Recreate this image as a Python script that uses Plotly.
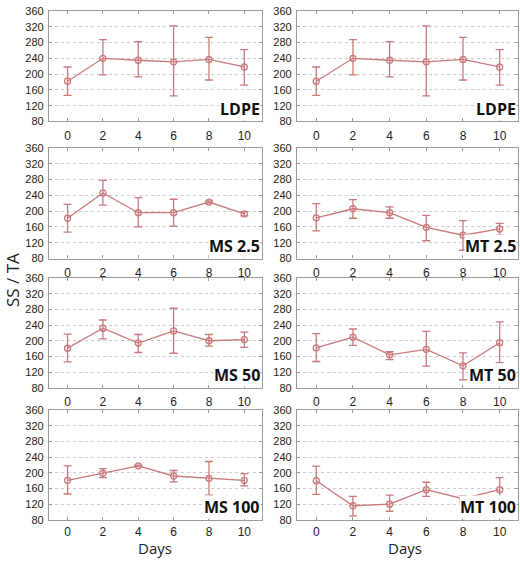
import plotly.graph_objects as go

days = [0, 2, 4, 6, 8, 10]
y_ticks = [80, 120, 160, 200, 240, 280, 320, 360]

panel_names = ["LDPE", "LDPE", "MS 2.5", "MT 2.5", "MS 50", "MT 50", "MS 100", "MT 100"]

ldpe_mean = [182, 240, 235, 231, 237, 218]
ldpe_hi = [218, 287, 282, 322, 293, 262]
ldpe_lo = [146, 198, 193, 145, 185, 172]

ms25_mean = [182, 246, 196, 196, 223, 193]
ms25_hi = [217, 278, 234, 230, 226, 198]
ms25_lo = [147, 215, 160, 162, 220, 188]

mt25_mean = [183, 206, 196, 159, 139, 155]
mt25_hi = [219, 229, 211, 189, 176, 169]
mt25_lo = [150, 182, 182, 125, 101, 140]

ms50_mean = [181, 232, 194, 225, 200, 203]
ms50_hi = [217, 253, 216, 283, 216, 222]
ms50_lo = [146, 205, 170, 168, 186, 183]

mt50_mean = [182, 209, 164, 178, 136, 195]
mt50_hi = [218, 230, 172, 224, 169, 248]
mt50_lo = [147, 188, 152, 135, 100, 144]

ms100_mean = [181, 199, 218, 192, 186, 181]
ms100_hi = [218, 211, 220, 206, 229, 198]
ms100_lo = [146, 188, 216, 177, 143, 167]

mt100_mean = [180, 116, 120, 157, 134, 157]
mt100_hi = [217, 140, 143, 176, 141, 188]
mt100_lo = [145, 90, 102, 140, 125, 127]

series = [
    (ldpe_mean, ldpe_hi, ldpe_lo),
    (ldpe_mean, ldpe_hi, ldpe_lo),
    (ms25_mean, ms25_hi, ms25_lo),
    (mt25_mean, mt25_hi, mt25_lo),
    (ms50_mean, ms50_hi, ms50_lo),
    (mt50_mean, mt50_hi, mt50_lo),
    (ms100_mean, ms100_hi, ms100_lo),
    (mt100_mean, mt100_hi, mt100_lo),
]

W, H = 520, 565
col_px = [(49, 262), (297, 518)]
row_px = [(5, 118), (145, 258), (278, 390), (413, 525)]

COLOR = "#c97a7a"
fig = go.Figure()
layout = dict(
    width=W, height=H,
    margin=dict(l=0, r=0, t=0, b=0),
    paper_bgcolor="white", plot_bgcolor="white",
    showlegend=False,
    font=dict(family="Liberation Sans, Arial, sans-serif", size=11, color="#222"),
)
annotations = []

for i, (mean, hi, lo) in enumerate(series):
    r, c = divmod(i, 2)
    n = i + 1
    xa = "x" if n == 1 else f"x{n}"
    ya = "y" if n == 1 else f"y{n}"
    plus = [h - m for h, m in zip(hi, mean)]
    minus = [m - l for m, l in zip(mean, lo)]
    fig.add_trace(go.Scatter(
        x=days, y=mean, xaxis=xa, yaxis=ya, mode="lines+markers",
        line=dict(color=COLOR, width=1.3),
        marker=dict(symbol="circle-open", size=6, color=COLOR, line=dict(width=1.3)),
        error_y=dict(type="data", symmetric=False, array=plus, arrayminus=minus,
                     color=COLOR, thickness=1.3, width=4),
        cliponaxis=False,
    ))
    x0, x1 = col_px[c]
    y0, y1 = row_px[r]
    common_line = dict(showline=True, linecolor="#9a9a9a", linewidth=1.2, mirror="ticks",
                       ticks="inside", ticklen=3, tickcolor="#9a9a9a", zeroline=False)
    layout["xaxis" if n == 1 else f"xaxis{n}"] = dict(
        domain=[x0 / W, x1 / W], anchor=ya, range=[-1.05, 11.0],
        tickvals=days, ticktext=[str(d) for d in days], showgrid=False,
        tickfont=dict(size=12, color="#222"), ticklabelstandoff=(1 if r == 3 else 3),
        **common_line)
    layout["yaxis" if n == 1 else f"yaxis{n}"] = dict(
        domain=[1 - y1 / H, 1 - y0 / H], anchor=xa, range=[80, 360],
        tickvals=y_ticks, showgrid=True, gridcolor="#cccccc", griddash="dot", gridwidth=1,
        tickfont=dict(size=11, color="#222"), ticklabelstandoff=2, **common_line)
    annotations.append(dict(
        text=f"<b>{panel_names[i]}</b>", xref="paper", yref="paper",
        x=(x1 - 1) / W, y=1 - (y1 - 1) / H, xanchor="right", yanchor="bottom",
        showarrow=False, bgcolor="white", borderpad=0,
        font=dict(family="Open Sans, sans-serif", size=16, color="#111"),
    ))

annotations.append(dict(text="SS / TA", xref="paper", yref="paper", x=12 / W, y=1 - 280 / H,
                        textangle=-90, showarrow=False, xanchor="center", yanchor="middle",
                        font=dict(family="Open Sans, sans-serif", size=17, color="#222")))
for dx in (155, 405):
    annotations.append(dict(text="Days", xref="paper", yref="paper", x=dx / W, y=0,
                            showarrow=False, xanchor="center", yanchor="bottom", borderpad=0,
                            font=dict(family="Open Sans, sans-serif", size=15, color="#222")))
layout["annotations"] = annotations
fig.update_layout(**layout)
fig.write_html("out.html", config={"displayModeBar": False},
               post_script="document.body.style.margin='0';document.body.style.overflow='hidden';")
